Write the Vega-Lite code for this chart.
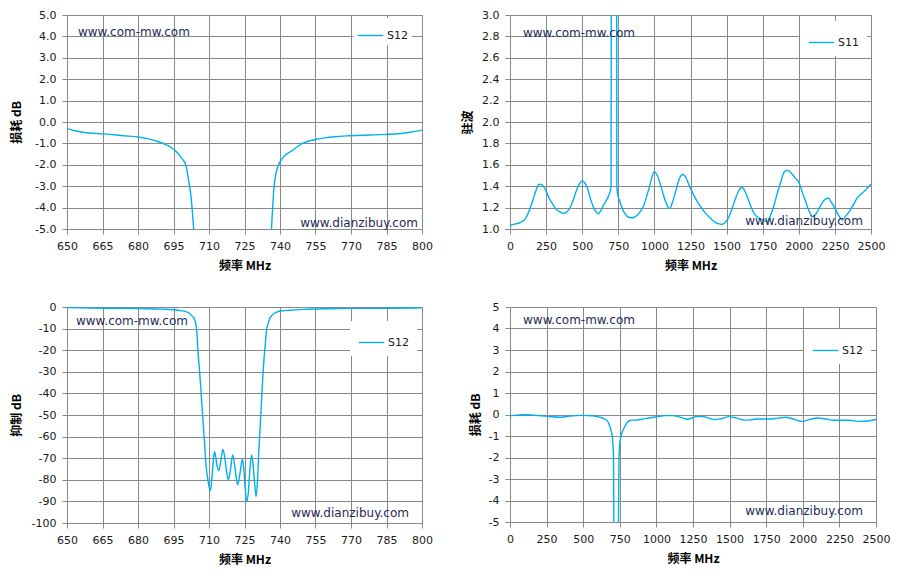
{
  "$schema": "https://vega.github.io/schema/vega-lite/v6.json",
  "description": "Filter response: insertion loss, VSWR and rejection",
  "padding": {"left": 10, "top": 9, "right": 5, "bottom": 5},
  "background": "white",
  "datasets": {
    "s12_pass": [
      {"mhz": 650, "db": -0.31}, {"mhz": 654, "db": -0.42}, {"mhz": 658, "db": -0.5}, {"mhz": 663, "db": -0.54},
      {"mhz": 668, "db": -0.58}, {"mhz": 672, "db": -0.62}, {"mhz": 676, "db": -0.66}, {"mhz": 680, "db": -0.7},
      {"mhz": 684, "db": -0.78}, {"mhz": 688, "db": -0.9}, {"mhz": 691, "db": -1.02}, {"mhz": 693.5, "db": -1.15},
      {"mhz": 695.5, "db": -1.32}, {"mhz": 697, "db": -1.48}, {"mhz": 698.5, "db": -1.7}, {"mhz": 700, "db": -1.95},
      {"mhz": 700.6, "db": -2.2}, {"mhz": 701.2, "db": -2.6}, {"mhz": 701.8, "db": -3.0}, {"mhz": 702.4, "db": -3.5},
      {"mhz": 702.9, "db": -4.1}, {"mhz": 703.5, "db": -5.0}, {"mhz": 704.3, "db": -7}, {"mhz": 706, "db": -20},
      {"mhz": 734, "db": -20}, {"mhz": 735.7, "db": -7}, {"mhz": 736.4, "db": -5.0}, {"mhz": 736.9, "db": -4.0},
      {"mhz": 737.5, "db": -3.0}, {"mhz": 738.3, "db": -2.4}, {"mhz": 739.4, "db": -2.0}, {"mhz": 741, "db": -1.7},
      {"mhz": 743, "db": -1.48}, {"mhz": 745, "db": -1.35}, {"mhz": 747, "db": -1.18}, {"mhz": 749.5, "db": -1.0},
      {"mhz": 752, "db": -0.9}, {"mhz": 755, "db": -0.82}, {"mhz": 759, "db": -0.74}, {"mhz": 763, "db": -0.69},
      {"mhz": 768, "db": -0.65}, {"mhz": 772, "db": -0.63}, {"mhz": 778, "db": -0.61}, {"mhz": 785, "db": -0.58},
      {"mhz": 790, "db": -0.55}, {"mhz": 795, "db": -0.48}, {"mhz": 800, "db": -0.38}
    ],
    "vswr": [
      {"mhz": 0, "vswr": 1.035}, {"mhz": 30, "vswr": 1.045}, {"mhz": 62, "vswr": 1.056}, {"mhz": 90, "vswr": 1.075},
      {"mhz": 108, "vswr": 1.1}, {"mhz": 130, "vswr": 1.16}, {"mhz": 155, "vswr": 1.255}, {"mhz": 180, "vswr": 1.36},
      {"mhz": 201, "vswr": 1.418}, {"mhz": 220, "vswr": 1.415}, {"mhz": 236, "vswr": 1.39}, {"mhz": 255, "vswr": 1.34},
      {"mhz": 270, "vswr": 1.29}, {"mhz": 295, "vswr": 1.235}, {"mhz": 316, "vswr": 1.19}, {"mhz": 345, "vswr": 1.16},
      {"mhz": 374, "vswr": 1.146}, {"mhz": 398, "vswr": 1.165}, {"mhz": 420, "vswr": 1.21}, {"mhz": 445, "vswr": 1.3},
      {"mhz": 466, "vswr": 1.38}, {"mhz": 485, "vswr": 1.43}, {"mhz": 501, "vswr": 1.45}, {"mhz": 518, "vswr": 1.43},
      {"mhz": 536, "vswr": 1.38}, {"mhz": 560, "vswr": 1.27}, {"mhz": 582, "vswr": 1.19}, {"mhz": 600, "vswr": 1.155},
      {"mhz": 612, "vswr": 1.143}, {"mhz": 628, "vswr": 1.17}, {"mhz": 650, "vswr": 1.23}, {"mhz": 668, "vswr": 1.27},
      {"mhz": 686, "vswr": 1.32}, {"mhz": 697, "vswr": 1.37}, {"mhz": 700, "vswr": 1.42}, {"mhz": 701.5, "vswr": 3.5},
      {"mhz": 703, "vswr": 10}, {"mhz": 737, "vswr": 10}, {"mhz": 738.5, "vswr": 3.5}, {"mhz": 740, "vswr": 1.4},
      {"mhz": 745, "vswr": 1.33}, {"mhz": 760, "vswr": 1.26}, {"mhz": 778, "vswr": 1.19}, {"mhz": 795, "vswr": 1.145},
      {"mhz": 813, "vswr": 1.115}, {"mhz": 836, "vswr": 1.105}, {"mhz": 860, "vswr": 1.11}, {"mhz": 882, "vswr": 1.13},
      {"mhz": 905, "vswr": 1.17}, {"mhz": 928, "vswr": 1.225}, {"mhz": 945, "vswr": 1.3}, {"mhz": 963, "vswr": 1.38},
      {"mhz": 982, "vswr": 1.48}, {"mhz": 1000, "vswr": 1.536}, {"mhz": 1020, "vswr": 1.5}, {"mhz": 1043, "vswr": 1.41},
      {"mhz": 1060, "vswr": 1.33}, {"mhz": 1078, "vswr": 1.255}, {"mhz": 1092, "vswr": 1.21}, {"mhz": 1106, "vswr": 1.19},
      {"mhz": 1125, "vswr": 1.25}, {"mhz": 1147, "vswr": 1.35}, {"mhz": 1170, "vswr": 1.46}, {"mhz": 1194, "vswr": 1.51},
      {"mhz": 1215, "vswr": 1.49}, {"mhz": 1240, "vswr": 1.41}, {"mhz": 1268, "vswr": 1.33}, {"mhz": 1297, "vswr": 1.255},
      {"mhz": 1325, "vswr": 1.2}, {"mhz": 1355, "vswr": 1.146}, {"mhz": 1385, "vswr": 1.105}, {"mhz": 1413, "vswr": 1.07},
      {"mhz": 1440, "vswr": 1.05}, {"mhz": 1471, "vswr": 1.044}, {"mhz": 1495, "vswr": 1.07}, {"mhz": 1517, "vswr": 1.115},
      {"mhz": 1540, "vswr": 1.2}, {"mhz": 1563, "vswr": 1.29}, {"mhz": 1585, "vswr": 1.36}, {"mhz": 1605, "vswr": 1.39},
      {"mhz": 1625, "vswr": 1.36}, {"mhz": 1644, "vswr": 1.3}, {"mhz": 1668, "vswr": 1.21}, {"mhz": 1690, "vswr": 1.146},
      {"mhz": 1715, "vswr": 1.11}, {"mhz": 1748, "vswr": 1.085}, {"mhz": 1782, "vswr": 1.07}, {"mhz": 1805, "vswr": 1.13},
      {"mhz": 1829, "vswr": 1.225}, {"mhz": 1852, "vswr": 1.34}, {"mhz": 1875, "vswr": 1.44}, {"mhz": 1898, "vswr": 1.53},
      {"mhz": 1921, "vswr": 1.55}, {"mhz": 1945, "vswr": 1.525}, {"mhz": 1967, "vswr": 1.49}, {"mhz": 2002, "vswr": 1.43},
      {"mhz": 2025, "vswr": 1.34}, {"mhz": 2048, "vswr": 1.255}, {"mhz": 2070, "vswr": 1.17}, {"mhz": 2094, "vswr": 1.115},
      {"mhz": 2118, "vswr": 1.14}, {"mhz": 2140, "vswr": 1.19}, {"mhz": 2170, "vswr": 1.26}, {"mhz": 2205, "vswr": 1.29},
      {"mhz": 2225, "vswr": 1.25}, {"mhz": 2244, "vswr": 1.21}, {"mhz": 2270, "vswr": 1.14}, {"mhz": 2302, "vswr": 1.085},
      {"mhz": 2325, "vswr": 1.12}, {"mhz": 2348, "vswr": 1.16}, {"mhz": 2375, "vswr": 1.22}, {"mhz": 2405, "vswr": 1.29},
      {"mhz": 2452, "vswr": 1.35}, {"mhz": 2500, "vswr": 1.42}
    ],
    "s12_rej": [
      {"mhz": 650, "db": -0.3}, {"mhz": 660, "db": -0.5}, {"mhz": 670, "db": -0.6}, {"mhz": 680, "db": -0.7},
      {"mhz": 690, "db": -1.0}, {"mhz": 695, "db": -1.3}, {"mhz": 698, "db": -1.7}, {"mhz": 700, "db": -2.0},
      {"mhz": 701.5, "db": -2.8}, {"mhz": 702.7, "db": -4}, {"mhz": 703.7, "db": -5.2}, {"mhz": 704.4, "db": -7.7},
      {"mhz": 704.9, "db": -12}, {"mhz": 705.3, "db": -20}, {"mhz": 705.9, "db": -28}, {"mhz": 706.4, "db": -35.4},
      {"mhz": 707.1, "db": -47}, {"mhz": 707.8, "db": -58}, {"mhz": 708.3, "db": -66}, {"mhz": 708.8, "db": -73.7},
      {"mhz": 709.4, "db": -79}, {"mhz": 710, "db": -83}, {"mhz": 710.6, "db": -85}, {"mhz": 711, "db": -82},
      {"mhz": 711.4, "db": -77}, {"mhz": 711.9, "db": -70}, {"mhz": 712.3, "db": -67}, {"mhz": 712.8, "db": -69},
      {"mhz": 713.4, "db": -73.5}, {"mhz": 714.2, "db": -75.7}, {"mhz": 715, "db": -71}, {"mhz": 715.9, "db": -66},
      {"mhz": 716.7, "db": -70}, {"mhz": 717.4, "db": -76}, {"mhz": 718.2, "db": -80}, {"mhz": 719.1, "db": -75},
      {"mhz": 720, "db": -68.5}, {"mhz": 720.8, "db": -73}, {"mhz": 721.5, "db": -79}, {"mhz": 722.1, "db": -82.3},
      {"mhz": 723.1, "db": -77}, {"mhz": 724.1, "db": -70.4}, {"mhz": 724.7, "db": -75}, {"mhz": 725.3, "db": -84},
      {"mhz": 725.9, "db": -90}, {"mhz": 726.6, "db": -86}, {"mhz": 727.3, "db": -75}, {"mhz": 728, "db": -68.5},
      {"mhz": 728.7, "db": -74}, {"mhz": 729.3, "db": -82}, {"mhz": 729.9, "db": -87.7}, {"mhz": 730.5, "db": -80},
      {"mhz": 731.1, "db": -66}, {"mhz": 731.7, "db": -54}, {"mhz": 732.2, "db": -43}, {"mhz": 732.7, "db": -33},
      {"mhz": 733.2, "db": -24.6}, {"mhz": 733.8, "db": -17}, {"mhz": 734.3, "db": -10.8}, {"mhz": 735, "db": -7.5},
      {"mhz": 735.6, "db": -5.4}, {"mhz": 736.5, "db": -4}, {"mhz": 737.5, "db": -3.0}, {"mhz": 739, "db": -2.2},
      {"mhz": 741, "db": -1.8}, {"mhz": 744, "db": -1.5}, {"mhz": 750, "db": -1.1}, {"mhz": 760, "db": -0.8},
      {"mhz": 770, "db": -0.65}, {"mhz": 785, "db": -0.6}, {"mhz": 800, "db": -0.4}
    ],
    "s12_wide": [
      {"mhz": 0, "db": -0.06}, {"mhz": 50, "db": -0.03}, {"mhz": 107, "db": -0.01}, {"mhz": 160, "db": -0.03},
      {"mhz": 210, "db": -0.06}, {"mhz": 267, "db": -0.09}, {"mhz": 335, "db": -0.13}, {"mhz": 400, "db": -0.08},
      {"mhz": 450, "db": -0.05}, {"mhz": 495, "db": -0.04}, {"mhz": 563, "db": -0.06}, {"mhz": 610, "db": -0.12},
      {"mhz": 643, "db": -0.2}, {"mhz": 665, "db": -0.3}, {"mhz": 677, "db": -0.47}, {"mhz": 690, "db": -0.75},
      {"mhz": 700, "db": -1.1}, {"mhz": 705, "db": -1.6}, {"mhz": 707, "db": -2.0}, {"mhz": 708, "db": -3.0},
      {"mhz": 709, "db": -5}, {"mhz": 712, "db": -20}, {"mhz": 738, "db": -20}, {"mhz": 741, "db": -5},
      {"mhz": 743, "db": -3.0}, {"mhz": 745, "db": -1.9}, {"mhz": 752, "db": -1.25}, {"mhz": 765, "db": -0.85},
      {"mhz": 779, "db": -0.63}, {"mhz": 795, "db": -0.42}, {"mhz": 814, "db": -0.29}, {"mhz": 835, "db": -0.26},
      {"mhz": 859, "db": -0.26}, {"mhz": 900, "db": -0.22}, {"mhz": 950, "db": -0.16}, {"mhz": 1010, "db": -0.09},
      {"mhz": 1064, "db": -0.05}, {"mhz": 1110, "db": -0.05}, {"mhz": 1150, "db": -0.1}, {"mhz": 1178, "db": -0.16},
      {"mhz": 1212, "db": -0.22}, {"mhz": 1240, "db": -0.17}, {"mhz": 1269, "db": -0.1}, {"mhz": 1315, "db": -0.09},
      {"mhz": 1355, "db": -0.16}, {"mhz": 1395, "db": -0.24}, {"mhz": 1440, "db": -0.2}, {"mhz": 1497, "db": -0.1},
      {"mhz": 1543, "db": -0.16}, {"mhz": 1600, "db": -0.26}, {"mhz": 1640, "db": -0.25}, {"mhz": 1680, "db": -0.21},
      {"mhz": 1771, "db": -0.21}, {"mhz": 1830, "db": -0.17}, {"mhz": 1885, "db": -0.13}, {"mhz": 1930, "db": -0.2},
      {"mhz": 1994, "db": -0.32}, {"mhz": 2044, "db": -0.24}, {"mhz": 2101, "db": -0.16}, {"mhz": 2158, "db": -0.21},
      {"mhz": 2204, "db": -0.27}, {"mhz": 2260, "db": -0.27}, {"mhz": 2318, "db": -0.27}, {"mhz": 2386, "db": -0.32},
      {"mhz": 2455, "db": -0.29}, {"mhz": 2500, "db": -0.23}
    ]
  },
  "columns": 2,
  "bounds": "flush",
  "spacing": {"row": 78, "column": 88},
  "resolve": {
    "scale": {"x": "independent", "y": "independent", "color": "independent"},
    "legend": {"color": "independent"}
  },
  "concat": [
    {
      "width": 355,
      "height": 214,
      "data": {"name": "s12_pass"},
      "layer": [
        {
          "mark": {"type": "line", "clip": true, "strokeWidth": 1.4, "interpolate": "monotone"},
          "encoding": {
            "x": {
              "field": "mhz", "type": "quantitative",
              "scale": {"domain": [650, 800], "nice": false, "zero": false},
              "axis": {"title": "频率 MHz", "tickCount": 20, "format": "d", "values": [650, 665, 680, 695, 710, 725, 740, 755, 770, 785, 800]}
            },
            "y": {
              "field": "db", "type": "quantitative",
              "scale": {"domain": [-5, 5], "nice": false},
              "axis": {
                "title": "损耗 dB", "tickCount": 20, "values": [-5, -4, -3, -2, -1, 0, 1, 2, 3, 4, 5], "format": ".1f",
                "labelExpr": "replace(datum.label, '−', '-')", "minExtent": 40, "maxExtent": 40, "titlePadding": 4
              }
            },
            "color": {
              "datum": "S12", "type": "nominal",
              "scale": {"range": ["#00B0F0"]},
              "legend": {"orient": "none", "legendX": 286, "legendY": 3, "padding": 4}
            }
          }
        },
        {
          "data": {"values": [{"site": "www.com-mw.com"}]},
          "mark": {"type": "text", "align": "left", "baseline": "middle", "font": "DejaVu Sans", "fontSize": 12, "color": "#1F2A56"},
          "encoding": {"x": {"datum": 654.6}, "y": {"datum": 4.2}, "text": {"field": "site"}}
        },
        {
          "data": {"values": [{"site": "www.dianzibuy.com"}]},
          "mark": {"type": "text", "align": "right", "baseline": "middle", "font": "DejaVu Sans", "fontSize": 12, "color": "#1F2A56"},
          "encoding": {"x": {"datum": 798.3}, "y": {"datum": -4.72}, "text": {"field": "site"}}
        }
      ]
    },
    {
      "width": 361,
      "height": 214,
      "data": {"name": "vswr"},
      "layer": [
        {
          "mark": {"type": "line", "clip": true, "strokeWidth": 1.4, "interpolate": "monotone"},
          "encoding": {
            "x": {
              "field": "mhz", "type": "quantitative",
              "scale": {"domain": [0, 2500], "nice": false},
              "axis": {"title": "频率 MHz", "tickCount": 20, "format": "d", "values": [0, 250, 500, 750, 1000, 1250, 1500, 1750, 2000, 2250, 2500]}
            },
            "y": {
              "field": "vswr", "type": "quantitative",
              "scale": {"domain": [1, 3], "nice": false, "zero": false},
              "axis": {
                "title": "驻波", "tickCount": 20, "values": [1, 1.2, 1.4, 1.6, 1.8, 2, 2.2, 2.4, 2.6, 2.8, 3], "format": ".1f",
                "minExtent": 30, "maxExtent": 30, "titlePadding": 6
              }
            },
            "color": {
              "datum": "S11", "type": "nominal",
              "scale": {"range": ["#00B0F0"]},
              "legend": {"orient": "none", "legendX": 290, "legendY": 6, "padding": 8}
            }
          }
        },
        {
          "data": {"values": [{"site": "www.com-mw.com"}]},
          "mark": {"type": "text", "align": "left", "baseline": "middle", "font": "DejaVu Sans", "fontSize": 12, "color": "#1F2A56"},
          "encoding": {"x": {"datum": 90}, "y": {"datum": 2.83}, "text": {"field": "site"}}
        },
        {
          "data": {"values": [{"site": "www.dianzibuy.com"}]},
          "mark": {"type": "text", "align": "right", "baseline": "middle", "font": "DejaVu Sans", "fontSize": 12, "color": "#1F2A56"},
          "encoding": {"x": {"datum": 2444}, "y": {"datum": 1.075}, "text": {"field": "site"}}
        }
      ]
    },
    {
      "width": 355,
      "height": 216,
      "data": {"name": "s12_rej"},
      "layer": [
        {
          "mark": {"type": "line", "clip": true, "strokeWidth": 1.4, "interpolate": "monotone"},
          "encoding": {
            "x": {
              "field": "mhz", "type": "quantitative",
              "scale": {"domain": [650, 800], "nice": false, "zero": false},
              "axis": {"title": "频率 MHz", "tickCount": 20, "format": "d", "values": [650, 665, 680, 695, 710, 725, 740, 755, 770, 785, 800]}
            },
            "y": {
              "field": "db", "type": "quantitative",
              "scale": {"domain": [-100, 0], "nice": false},
              "axis": {
                "title": "抑制 dB", "tickCount": 20, "values": [-100, -90, -80, -70, -60, -50, -40, -30, -20, -10, 0], "format": "d",
                "labelExpr": "replace(datum.label, '−', '-')", "minExtent": 40, "maxExtent": 40, "titlePadding": 4
              }
            },
            "color": {
              "datum": "S12", "type": "nominal",
              "scale": {"range": ["#00B0F0"]},
              "legend": {"orient": "none", "legendX": 283, "legendY": 14, "padding": 8}
            }
          }
        },
        {
          "data": {"values": [{"site": "www.com-mw.com"}]},
          "mark": {"type": "text", "align": "left", "baseline": "middle", "font": "DejaVu Sans", "fontSize": 12, "color": "#1F2A56"},
          "encoding": {"x": {"datum": 653.8}, "y": {"datum": -6.5}, "text": {"field": "site"}}
        },
        {
          "data": {"values": [{"site": "www.dianzibuy.com"}]},
          "mark": {"type": "text", "align": "right", "baseline": "middle", "font": "DejaVu Sans", "fontSize": 12, "color": "#1F2A56"},
          "encoding": {"x": {"datum": 794.5}, "y": {"datum": -95.4}, "text": {"field": "site"}}
        }
      ]
    },
    {
      "width": 366,
      "height": 215,
      "data": {"name": "s12_wide"},
      "layer": [
        {
          "mark": {"type": "line", "clip": true, "strokeWidth": 1.4, "interpolate": "monotone"},
          "encoding": {
            "x": {
              "field": "mhz", "type": "quantitative",
              "scale": {"domain": [0, 2500], "nice": false},
              "axis": {"title": "频率 MHz", "tickCount": 20, "format": "d", "values": [0, 250, 500, 750, 1000, 1250, 1500, 1750, 2000, 2250, 2500]}
            },
            "y": {
              "field": "db", "type": "quantitative",
              "scale": {"domain": [-5, 5], "nice": false},
              "axis": {
                "title": "损耗 dB", "tickCount": 20, "values": [-5, -4, -3, -2, -1, 0, 1, 2, 3, 4, 5], "format": "d",
                "labelExpr": "replace(datum.label, '−', '-')", "minExtent": 22, "maxExtent": 22, "titlePadding": 6
              }
            },
            "color": {
              "datum": "S12", "type": "nominal",
              "scale": {"range": ["#00B0F0"]},
              "legend": {"orient": "none", "legendX": 294, "legendY": 22, "padding": 8}
            }
          }
        },
        {
          "data": {"values": [{"site": "www.com-mw.com"}]},
          "mark": {"type": "text", "align": "left", "baseline": "middle", "font": "DejaVu Sans", "fontSize": 12, "color": "#1F2A56"},
          "encoding": {"x": {"datum": 89}, "y": {"datum": 4.4}, "text": {"field": "site"}}
        },
        {
          "data": {"values": [{"site": "www.dianzibuy.com"}]},
          "mark": {"type": "text", "align": "right", "baseline": "middle", "font": "DejaVu Sans", "fontSize": 12, "color": "#1F2A56"},
          "encoding": {"x": {"datum": 2411}, "y": {"datum": -4.49}, "text": {"field": "site"}}
        }
      ]
    }
  ],
  "config": {
    "view": {"stroke": null},
    "axis": {
      "grid": true,
      "gridColor": "#888888",
      "gridOpacity": 1,
      "domainColor": "#888888",
      "tickColor": "#888888",
      "tickSize": 5,
      "labelFont": "DejaVu Sans",
      "labelFontSize": 11,
      "labelColor": "#1a1a1a",
      "labelPadding": 6,
      "labelOverlap": false,
      "labelFlush": false,
      "titleFont": "Noto Sans CJK SC",
      "titleFontSize": 12,
      "titleFontWeight": "bold",
      "titleColor": "#000000"
    },
    "axisX": {"titlePadding": 9},
    "legend": {
      "title": null,
      "fillColor": "white",
      "symbolType": "stroke",
      "symbolSize": 650,
      "symbolStrokeWidth": 1.4,
      "labelFont": "DejaVu Sans",
      "labelFontSize": 11,
      "labelColor": "#1a1a1a",
      "labelOffset": 3
    }
  }
}
